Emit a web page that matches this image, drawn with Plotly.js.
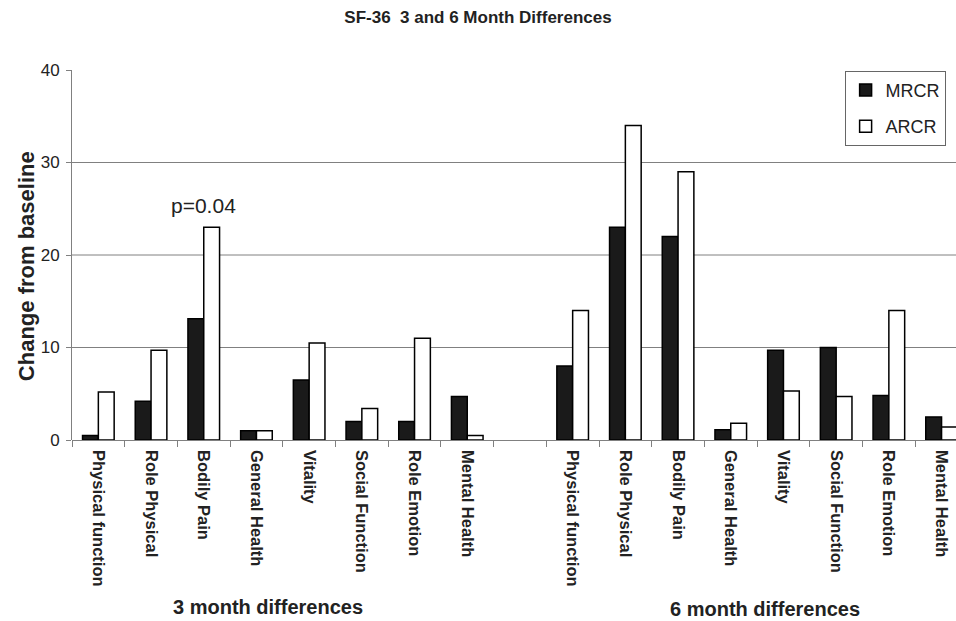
<!DOCTYPE html>
<html><head><meta charset="utf-8">
<script src="https://cdn.plot.ly/plotly-3.0.1.min.js"></script>
<style>html,body{margin:0;padding:0;overflow:hidden;background:#fff}</style>
</head><body><div id="chart" style="width:956px;height:621px"></div>
<script>
const scales = ["Physical function","Role Physical","Bodily Pain","General Health","Vitality","Social Function","Role Emotion","Mental Health"];
const mrcr3 = [0.5, 4.2, 13.1, 1.0, 6.5, 2.0, 2.0, 4.7];
const arcr3 = [5.2, 9.7, 23.0, 1.0, 10.5, 3.4, 11.0, 0.5];
const mrcr6 = [8.0, 23.0, 22.0, 1.1, 9.7, 10.0, 4.8, 2.5];
const arcr6 = [14.0, 34.0, 29.0, 1.8, 5.3, 4.7, 14.0, 1.4];
const groupLabels = ["3 month differences","6 month differences"];
const yTicks = [0,10,20,30,40];
const gridVals = [10,20,30];

// positions: 3-month at 0..7, blank slot at 8, 6-month at 9..16
const xs = scales.map((_,i)=>i).concat(scales.map((_,i)=>i+9));
const labels = scales.concat(scales);
const mrcr = mrcr3.concat(mrcr6);
const arcr = arcr3.concat(arcr6);

const traces = [
  {type:'bar', name:'MRCR', x:xs, y:mrcr, legendgroup:'a',
   marker:{color:'#1a1a1a', line:{color:'#000', width:1.5}}},
  {type:'bar', name:'ARCR', x:xs, y:arcr, legendgroup:'b',
   marker:{color:'#ffffff', line:{color:'#000', width:1.5}}}
];

const shapes = gridVals.map(v=>({type:'line', xref:'paper', yref:'y', x0:0, x1:1, y0:v, y1:v,
  line:{color:'#808080', width:1}, layer:'below'}));

const FONT = 'Liberation Sans, Arial, sans-serif';
const layout = {
  width:956, height:621,
  margin:{l:72, r:0, t:70, b:181},
  paper_bgcolor:'#fff', plot_bgcolor:'#fff',
  font:{family:FONT, color:'#222'},
  title:{text:'SF-36  3 and 6 Month Differences', font:{size:17, family:FONT, weight:'bold', color:'#222'},
    x:0.5, xanchor:'center', y:0.9726, yanchor:'middle'},
  barmode:'group', bargap:0.4, bargroupgap:0,
  showlegend:true,
  legend:{x:0.874, y:0.998, xanchor:'left', yanchor:'top', bgcolor:'#fff', bordercolor:'#666', borderwidth:1,
    font:{size:18, color:'#222'}, traceorder:'grouped', tracegroupgap:10},
  xaxis:{range:[-0.5, 16.274], tickmode:'array', tickvals:xs, ticktext:labels, tickangle:90,
    ticks:'', tickfont:{size:16.5, weight:'bold', color:'#222'}, showgrid:false, zeroline:false,
    showline:false, ticklabelstandoff:9,
    minor:{tickmode:'linear', tick0:-0.5, dtick:1, ticks:'outside', ticklen:6, tickcolor:'#808080', showgrid:false}},
  yaxis:{range:[0,40], tickmode:'array', tickvals:yTicks, ticks:'outside', ticklen:5, tickcolor:'#808080',
    showline:true, linecolor:'#808080', linewidth:1, showgrid:false, zeroline:true, zerolinecolor:'#808080', zerolinewidth:1,
    tickfont:{size:17, color:'#222'}, ticklabelstandoff:3},
  shapes: shapes,
  annotations:[
    {text:'Change from baseline', xref:'paper', yref:'paper', x:-0.052, y:0.47, textangle:-90, showarrow:false,
     xanchor:'center', yanchor:'middle', font:{size:22, weight:'bold', color:'#222'}},
    {text:'p=0.04', x:2, y:25.3, xref:'x', yref:'y', showarrow:false, font:{size:21, color:'#222'}},
    {text:groupLabels[0], x:3.22, y:-0.451, xref:'x', yref:'paper', showarrow:false, yanchor:'middle',
     font:{size:20, weight:'bold', color:'#222'}},
    {text:groupLabels[1], x:12.65, y:-0.457, xref:'x', yref:'paper', showarrow:false, yanchor:'middle',
     font:{size:20, weight:'bold', color:'#222'}}
  ]
};
Plotly.newPlot('chart', traces, layout, {displayModeBar:false, staticPlot:true});
</script></body></html>
